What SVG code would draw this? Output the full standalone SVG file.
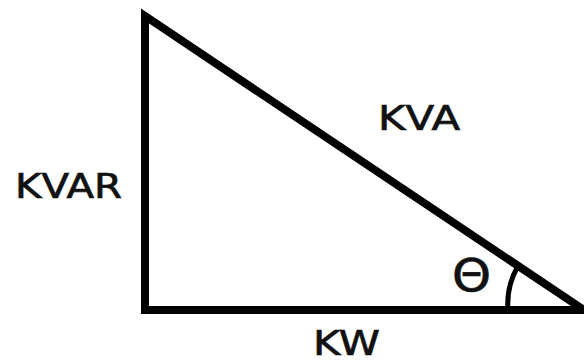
<svg xmlns="http://www.w3.org/2000/svg" width="584" height="364" viewBox="0 0 584 364">
<style>
.edge{stroke:#000;stroke-width:8;fill:none;stroke-linejoin:miter}
.arc{stroke:#000;stroke-width:5;fill:none}
.lbl{font-family:"DejaVu Sans","Verdana",sans-serif;font-size:34px;fill:#111;stroke:#111;stroke-width:0.7}
</style>
<rect width="584" height="364" fill="#fff"/>
<g id="connectors">
<path class="edge" d="M145,310 L145,16 L584,310 Z"/>
<path class="edge" d="M145,310 L584,310"/>
<path class="arc" d="M508,310 A76,76 0 0 1 518,266"/>
</g>
<g id="kvar"><text class="lbl" x="15" y="198" textLength="107" lengthAdjust="spacingAndGlyphs">KVAR</text></g>
<g id="kva"><text class="lbl" x="378" y="130" textLength="82" lengthAdjust="spacingAndGlyphs">KVA</text></g>
<g id="kw"><text class="lbl" x="313" y="355" textLength="67" lengthAdjust="spacingAndGlyphs">KW</text></g>
<g id="theta"><text class="lbl" x="452" y="291" style="font-size:44px" textLength="39" lengthAdjust="spacingAndGlyphs">Θ</text></g>
</svg>
